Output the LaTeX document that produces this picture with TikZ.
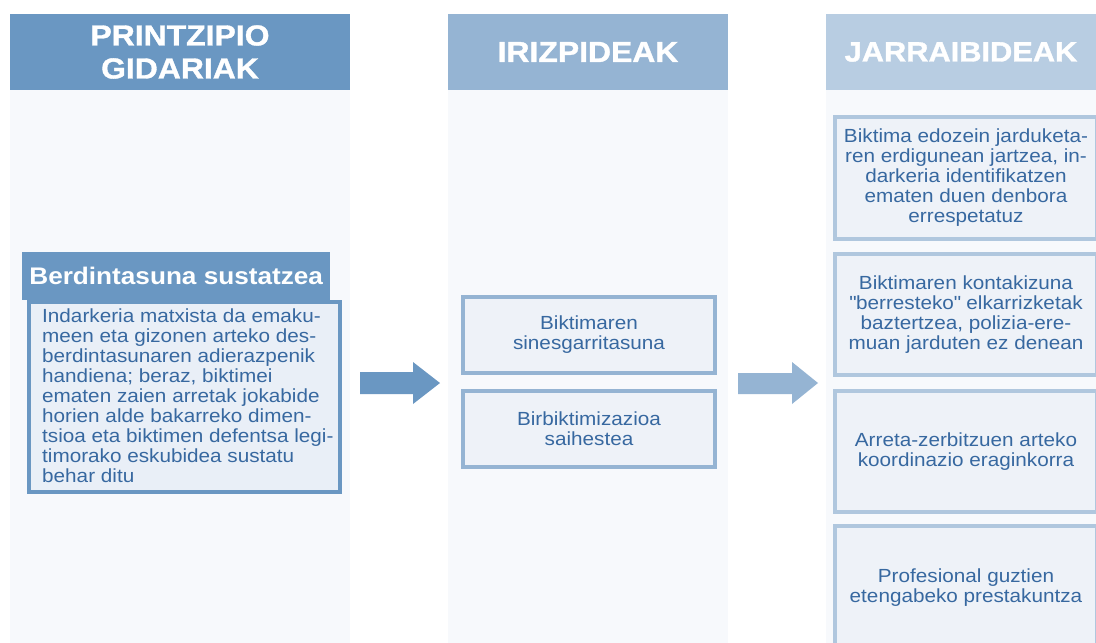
\documentclass[tikz,border=0pt]{standalone}
\usepackage{fontspec}
\setmainfont{Liberation Sans}[FakeStretch=1.09]
\newfontfamily\headfont{Liberation Sans Bold}[FakeStretch=1.1, FakeBold=1.2]
\usepackage{tikz}
\definecolor{c1}{RGB}{106, 151, 194}
\definecolor{c2}{RGB}{149, 180, 211}
\definecolor{c3}{RGB}{184, 205, 226}
\definecolor{bg}{RGB}{247, 249, 252}
\definecolor{boxfill}{RGB}{233, 239, 247}
\definecolor{cellfill}{RGB}{238, 242, 248}
\definecolor{cellline}{RGB}{176, 199, 222}
\definecolor{txt}{RGB}{55, 104, 160}

\begin{document}
\begin{tikzpicture}[
  every node/.style={inner sep=0pt},
  head/.style={text=white, font=\headfont\fontsize{29}{33}\selectfont, align=center},
  cell/.style={rectangle, draw=cellline, line width=4pt, fill=cellfill, text=txt, align=center, font=\fontsize{19}{20}\selectfont}]
\useasboundingbox (0pt, 0pt) rectangle (1096pt, -643pt);
\fill [white] (0pt, 0pt) rectangle (1096pt, -643pt);
% columns
\fill [bg] (10pt, -90pt) rectangle (350pt, -643pt);
\fill [bg] (448pt, -90pt) rectangle (728pt, -643pt);
\fill [bg] (826pt, -90pt) rectangle (1096pt, -643pt);
\node (h1) [fill=c1, minimum width=340pt, minimum height=76pt, head] at (180pt, -52pt) {PRINTZIPIO\\GIDARIAK};
\node (h2) [fill=c2, minimum width=280pt, minimum height=76pt, head] at (588pt, -52pt) {IRIZPIDEAK};
\node (h3) [fill=c3, minimum width=270pt, minimum height=76pt, head, font=\headfont\fontsize{28}{33}\selectfont] at (961pt, -52pt) {JARRAIBIDEAK};
% left column
\node (lbox) [rectangle, draw=c1, line width=4pt, fill=boxfill, minimum width=311pt, minimum height=190pt, anchor=north west] at (27pt, -300pt) {};
\node (ltitle) [fill=c1, text=white, minimum width=308pt, minimum height=48pt, font=\bfseries\fontsize{24}{26}\selectfont, anchor=north west] at (22pt, -252pt) {Berdintasuna sustatzea};
\node (ltext) [text=txt, align=left, anchor=north west, font=\fontsize{19}{20}\selectfont] at (42pt, -309pt) {Indarkeria matxista da emaku-\\meen eta gizonen arteko des-\\berdintasunaren adierazpenik\\handiena; beraz, biktimei\\ematen zaien arretak jokabide\\horien alde bakarreko dimen-\\tsioa eta biktimen defentsa legi-\\timorako eskubidea sustatu\\behar ditu};
% arrows
\fill [c1] (360pt, -372pt) -- (413pt, -372pt) -- (413pt, -362pt) -- (440pt, -383pt) -- (413pt, -404pt) -- (413pt, -394pt) -- (360pt, -394pt) -- cycle;
\fill [c2] (738pt, -373pt) -- (792pt, -373pt) -- (792pt, -362pt) -- (818pt, -383pt) -- (792pt, -404pt) -- (792pt, -394pt) -- (738pt, -394pt) -- cycle;
% middle column
\node (m1) [cell, draw=c2, minimum width=252pt, minimum height=76pt] at (589pt, -335pt) {Biktimaren\\sinesgarritasuna};
\node (m2) [cell, draw=c2, minimum width=252pt, minimum height=76pt] at (589pt, -429pt) {Birbiktimizazioa\\saihestea};
% right column
\node (r1) [cell, minimum width=262pt, minimum height=122pt] at (966pt, -178pt) {Biktima edozein jarduketa-\\ren erdigunean jartzea, in-\\darkeria identifikatzen\\ematen duen denbora\\errespetatuz};
\node (r2) [cell, minimum width=262pt, minimum height=121pt] at (966pt, -314.5pt) {Biktimaren kontakizuna\\\textquotedbl berresteko\textquotedbl{} elkarrizketak\\baztertzea, polizia-ere-\\muan jarduten ez denean};
\node (r3) [cell, minimum width=262pt, minimum height=121pt] at (966pt, -451.5pt) {Arreta-zerbitzuen arteko\\koordinazio eraginkorra};
\node (r4) [cell, minimum width=262pt, minimum height=124pt] at (966pt, -588pt) {Profesional guztien\\etengabeko prestakuntza};
\end{tikzpicture}
\end{document}
